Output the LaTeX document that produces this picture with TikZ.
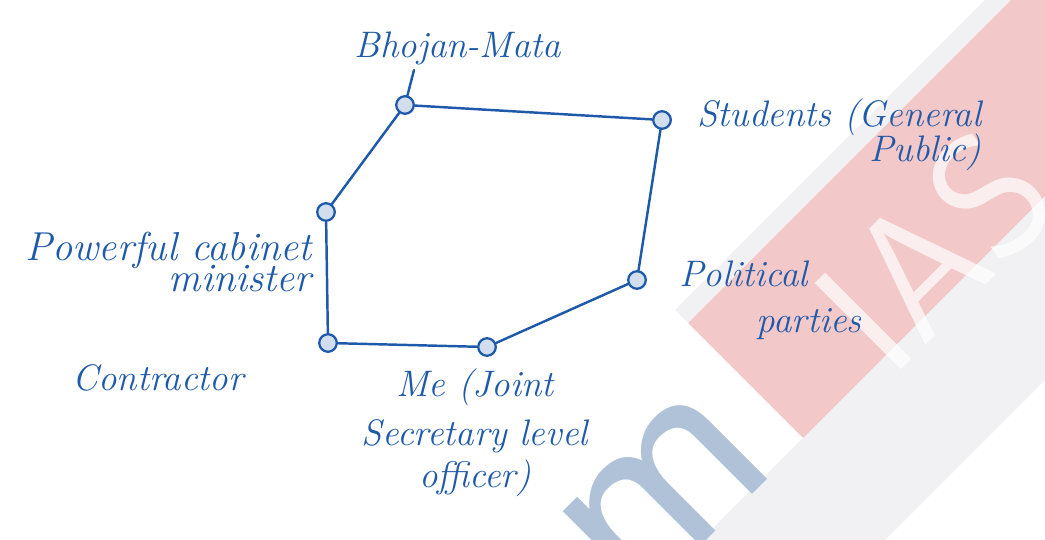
\documentclass[tikz,border=0pt]{standalone}
\usepackage{xcolor}
\definecolor{ink}{RGB}{31,90,170}
\definecolor{wmpink}{RGB}{243,200,200}
\definecolor{wmblue}{RGB}{176,194,216}
\definecolor{wmgrey}{RGB}{241,241,243}

\begin{document}
\begin{tikzpicture}[x=0.02cm,y=-0.02cm,
	dot/.style={circle,draw=ink,fill=ink!20,line width=1.3pt,minimum size=10pt,inner sep=0pt},
	edge/.style={draw=ink,line width=1.4pt,line cap=round},
	lbl/.style={text=ink,font=\fontsize{21}{24}\selectfont\itshape,inner sep=0pt}]
	\useasboundingbox (0,0) rectangle (1045,540);
	% faint logo in the background
	\begin{scope}
		\clip (0,0) rectangle (1045,540);
		\fill[wmgrey] (697,544) -- (789,636) -- (1319,106) -- (1227,14) -- cycle;
		\fill[wmgrey] (688,323) -- (1112,-101) -- (1099,-114) -- (675,310) -- cycle;
		\fill[wmpink] (803,438) -- (1227,14) -- (1112,-101) -- (688,323) -- cycle;
		\node[rotate=45,text=white,opacity=0.7,font=\fontsize{100}{100}\selectfont\sffamily] (wmias) at (935,250) {IAS};
		\node[rotate=45,text=wmblue,font=\fontsize{160}{160}\selectfont\sffamily] (wmm) at (665,495) {m};
	\end{scope}
	% the six players
	\node[dot] (bhojan) at (405,105) {};
	\node[dot] (students) at (662,120) {};
	\node[dot] (political) at (637,280) {};
	\node[dot] (me) at (487,347) {};
	\node[dot] (contractor) at (328,343) {};
	\node[dot] (minister) at (326,212) {};
	\draw[edge] (bhojan) -- (students) -- (political) -- (me) -- (contractor) -- (minister) -- (bhojan);
	% labels
	\node[lbl] (mata) at (458,48) {Bhojan-Mata};
	\coordinate (tick) at (414,70);
	\draw[edge] (bhojan) -- (tick);
	\node[lbl,align=right,anchor=west] (studlbl) at (697,135) {Students (General\\[-4pt]Public)};
	\node[lbl,align=right,anchor=east,font=\fontsize{23}{26}\selectfont\itshape] (minlbl) at (312,262) {Powerful cabinet\\[-8pt]minister};
	\node[lbl,align=left,anchor=west] (pollbl) at (679,300) {Political\\[2pt]\hspace{2.1em}parties};
	\node[lbl] (conlbl) at (158,378) {Contractor};
	\node[lbl,align=center,anchor=north] (melbl) at (475,368) {Me (Joint\\[4pt]Secretary level\\officer)};
\end{tikzpicture}
\end{document}
